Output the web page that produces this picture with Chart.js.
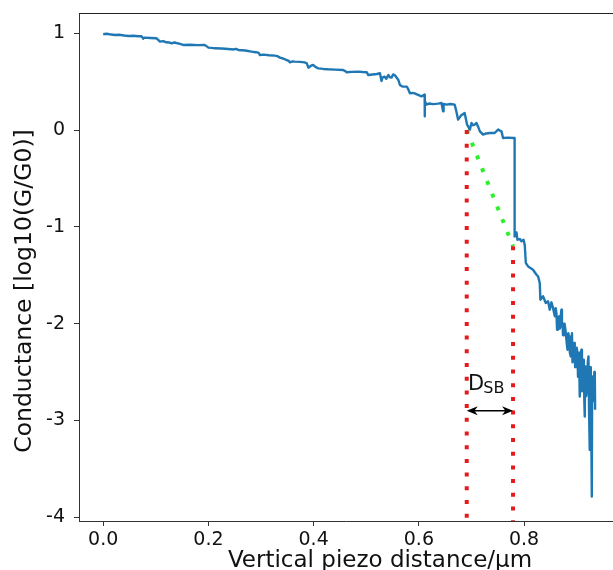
<!DOCTYPE html>
<html><head><meta charset="utf-8">
<script src="https://cdn.jsdelivr.net/npm/chart.js@4/dist/chart.umd.min.js"></script>
<style>html,body{margin:0;padding:0;background:#fff;overflow:hidden}</style>
</head><body>
<canvas id="c" width="613" height="570"></canvas>
<script>
// Vertical piezo distance (µm)
const distance = [
0.000,0.006,0.012,0.022,0.030,0.040,0.048,0.058,0.066,0.073,0.076,0.078,0.090,0.101,0.104,0.108,0.114,0.120,0.126,0.130,
0.136,0.139,0.146,0.152,0.165,0.180,0.193,0.197,0.200,0.206,0.212,0.225,0.238,0.248,0.252,0.257,0.270,0.282,0.290,0.295,
0.298,0.305,0.315,0.326,0.331,0.336,0.342,0.348,0.352,0.355,0.360,0.364,0.374,0.383,0.387,0.390,0.395,0.399,0.404,0.409,
0.418,0.428,0.440,0.456,0.460,0.463,0.472,0.485,0.493,0.501,0.504,0.512,0.520,0.526,0.529,0.531,0.535,0.538,0.542,0.545,
0.548,0.551,0.554,0.558,0.561,0.564,0.567,0.570,0.577,0.580,0.583,0.588,0.592,
0.605,0.611,0.611,0.6115,0.6145,0.620,0.627,0.6366,0.643,0.646,0.647,0.6525,0.660,0.668,0.671,0.6746,0.680,0.687,0.6917,0.697,
0.700,0.703,0.706,0.7095,0.713,0.716,0.722,0.728,0.735,0.744,0.7506,0.754,0.757,0.760,0.770,0.779,0.782,0.782,
0.7855,0.7874,0.792,0.795,0.799,0.8013,0.8033,0.8077,0.817,0.8236,0.8266,0.8298,0.831,0.836,0.8412,0.8456,0.8488,0.852,0.855,0.8584,0.860,0.8615,
0.8627,0.864,0.8665,0.868,0.869,0.870,0.871,0.872,0.873,0.874,0.8754,0.877,0.879,0.881,0.8825,0.884,0.8855,0.887,0.8887,0.890,
0.891,0.892,0.893,0.895,0.8963,0.897,0.898,0.900,0.9015,0.9025,0.9034,0.9045,0.9058,0.907,0.909,0.910,0.911,0.912,0.9135,0.9145,
0.9153,0.916,0.917,0.918,0.9197,0.921,0.9224,0.9235,0.9248,0.9258,0.9268,0.9278,0.9287,0.9293,0.930,0.931,0.9325,0.9335,0.9344,0.935
];
// Conductance log10(G/G0)
const conductance = [
0.990,0.995,0.990,0.983,0.985,0.977,0.973,0.975,0.970,0.969,0.945,0.955,0.952,0.949,0.935,0.914,0.920,0.907,0.905,0.897,
0.905,0.900,0.890,0.880,0.882,0.878,0.880,0.865,0.852,0.850,0.845,0.843,0.838,0.833,0.840,0.828,0.822,0.811,0.805,0.800,
0.776,0.780,0.774,0.769,0.764,0.749,0.740,0.724,0.718,0.700,0.710,0.707,0.705,0.700,0.690,0.645,0.665,0.673,0.650,0.638,
0.632,0.628,0.625,0.621,0.610,0.597,0.602,0.604,0.600,0.597,0.569,0.575,0.580,0.587,0.507,0.545,0.552,0.530,0.569,0.545,
0.542,0.575,0.569,0.540,0.518,0.466,0.455,0.449,0.449,0.420,0.380,0.385,0.380,
0.349,0.366,0.142,0.300,0.263,0.275,0.268,0.273,0.280,0.194,0.270,0.263,0.270,0.263,0.200,0.108,0.150,0.177,0.056,0.005,
0.074,0.050,0.056,0.074,0.030,-0.013,-0.047,-0.035,-0.030,-0.030,0.005,-0.005,-0.013,-0.082,-0.078,-0.082,-0.082,-1.100,
-1.058,-1.133,-1.126,-1.150,-1.133,-1.190,-1.374,-1.409,-1.443,-1.495,-1.512,-1.581,-1.753,-1.718,-1.787,-1.770,-1.856,-1.780,-1.839,-1.925,-1.840,-1.891,
-2.063,-1.950,-1.925,-2.050,-2.029,-1.900,-1.856,-2.020,-1.994,-2.120,-2.098,-2.000,-2.080,-2.200,-2.270,-2.100,-2.132,-2.300,-2.339,-2.150,
-2.098,-2.400,-2.374,-2.200,-2.270,-2.450,-2.408,-2.250,-2.305,-2.550,-2.477,-2.300,-2.753,-2.350,-2.270,-2.700,-2.615,-2.400,-2.374,-2.800,
-2.960,-2.450,-2.443,-2.750,-2.684,-2.400,-2.339,-2.900,-3.305,-2.450,-2.512,-3.100,-3.787,-2.700,-2.546,-2.800,-2.684,-2.500,-2.512,-2.891
];
const xTicks = [0, 0.2, 0.4, 0.6, 0.8];
const xTickLabels = ['0.0', '0.2', '0.4', '0.6', '0.8'];
const yTicks = [-4, -3, -2, -1, 0, 1];
const yTickLabels = ['-4', '-3', '-2', '-1', '0', '1'];
const xRange = [-0.046, 0.969];
const yRange = [-4.04, 1.21];
// annotation marks
const leftMarkX = [0.691, 0.691], leftMarkY = [0, -4.5];
const rightMarkX = [0.779, 0.779], rightMarkY = [-1.2, -4.5];
const slopeX = [0.691, 0.779], slopeY = [0, -1.2];
const dsbArrowX = [0.691, 0.779], dsbArrowY = [-2.90, -2.90];
const dsbLabelPos = [0.6935, -2.684];
const xTitle = 'Vertical piezo distance/\u03bcm';
const yTitle = 'Conductance [log10(G/G0)]';

const pts = (xs, ys) => xs.map((v, i) => ({x: v, y: ys[i]}));
const FONT = '"DejaVu Sans", Verdana, sans-serif';
const noPad = s => { s.paddingTop = 0; s.paddingBottom = 0; s.paddingLeft = 0; s.paddingRight = 0; };

const overlay = {
  id: 'overlay',
  afterDatasetsDraw(chart) {
    const {ctx, chartArea: a, scales: {x, y}} = chart;
    ctx.save();
    ctx.strokeStyle = '#222'; ctx.lineWidth = 1;
    ctx.beginPath(); ctx.moveTo(a.left, Math.round(a.top) + 0.5); ctx.lineTo(a.right, Math.round(a.top) + 0.5); ctx.stroke();
    // double arrow
    const x1 = x.getPixelForValue(dsbArrowX[0]), x2 = x.getPixelForValue(dsbArrowX[1]);
    const yy = y.getPixelForValue(dsbArrowY[0]);
    ctx.strokeStyle = '#000'; ctx.fillStyle = '#000'; ctx.lineWidth = 1.5;
    ctx.beginPath(); ctx.moveTo(x1 + 6, yy); ctx.lineTo(x2 - 6, yy); ctx.stroke();
    const hl = 11, hw = 4.5;
    ctx.beginPath(); ctx.moveTo(x1, yy); ctx.lineTo(x1 + hl, yy - hw); ctx.lineTo(x1 + hl * 0.7, yy); ctx.lineTo(x1 + hl, yy + hw); ctx.closePath(); ctx.fill();
    ctx.beginPath(); ctx.moveTo(x2, yy); ctx.lineTo(x2 - hl, yy - hw); ctx.lineTo(x2 - hl * 0.7, yy); ctx.lineTo(x2 - hl, yy + hw); ctx.closePath(); ctx.fill();
    // D_SB label
    const tx = x.getPixelForValue(dsbLabelPos[0]), ty = y.getPixelForValue(dsbLabelPos[1]);
    ctx.fillStyle = '#111'; ctx.textAlign = 'left'; ctx.textBaseline = 'alphabetic';
    ctx.font = '21px ' + FONT; ctx.fillText('D', tx, ty);
    const w = ctx.measureText('D').width;
    ctx.font = '16px ' + FONT; ctx.fillText('SB', tx + w - 1, ty + 3);
    ctx.restore();
  },
  afterDraw(chart) {
    const {ctx} = chart;
    ctx.save();
    ctx.fillStyle = '#111';
    ctx.textAlign = 'center'; ctx.textBaseline = 'alphabetic';
    ctx.font = '23px ' + FONT;
    ctx.fillText(xTitle, 380, 567);
    ctx.font = '23.5px ' + FONT;
    ctx.translate(31, 291); ctx.rotate(-Math.PI / 2);
    ctx.fillText(yTitle, 0, 0);
    ctx.restore();
  }
};

new Chart(document.getElementById('c'), {
  type: 'line',
  data: {
    datasets: [
      {data: pts(distance, conductance), borderColor: '#1f77b4', borderWidth: 2.4, pointRadius: 0, tension: 0, borderJoinStyle: 'round'},
      {data: pts(leftMarkX, leftMarkY), borderColor: '#e41a1c', borderWidth: 4, borderDash: [4, 9.7], pointRadius: 0},
      {data: pts(rightMarkX, rightMarkY), borderColor: '#e41a1c', borderWidth: 4, borderDash: [4, 9.7], pointRadius: 0},
      {data: pts(slopeX, slopeY), borderColor: '#2cf02c', borderWidth: 4, borderDash: [4, 9.7], pointRadius: 0}
    ]
  },
  options: {
    responsive: false, animation: false, devicePixelRatio: 1,
    layout: {padding: {top: 13, left: 0, right: 0, bottom: 0}},
    plugins: {legend: {display: false}, tooltip: {enabled: false}},
    scales: {
      x: {
        type: 'linear', min: xRange[0], max: xRange[1],
        afterBuildTicks: s => { s.ticks = xTicks.map(v => ({value: v})); },
        afterFit: s => { s.height = 49; noPad(s); },
        ticks: {callback: (v) => xTickLabels[xTicks.indexOf(v)] ?? '', font: {family: FONT, size: 19}, color: '#111', padding: 3, maxRotation: 0, autoSkip: false},
        grid: {display: true, drawOnChartArea: false, drawTicks: true, tickLength: 5, color: '#333'},
        border: {display: true, color: '#333', width: 1}
      },
      y: {
        type: 'linear', min: yRange[0], max: yRange[1],
        afterBuildTicks: s => { s.ticks = yTicks.map(v => ({value: v})); },
        afterFit: s => { s.width = 79; noPad(s); },
        ticks: {callback: (v) => yTickLabels[yTicks.indexOf(v)] ?? '', font: {family: FONT, size: 19}, color: '#111', padding: 9, autoSkip: false},
        grid: {display: true, drawOnChartArea: false, drawTicks: true, tickLength: 5, color: '#333'},
        border: {display: true, color: '#333', width: 1}
      }
    }
  },
  plugins: [overlay]
});
</script>
</body></html>
